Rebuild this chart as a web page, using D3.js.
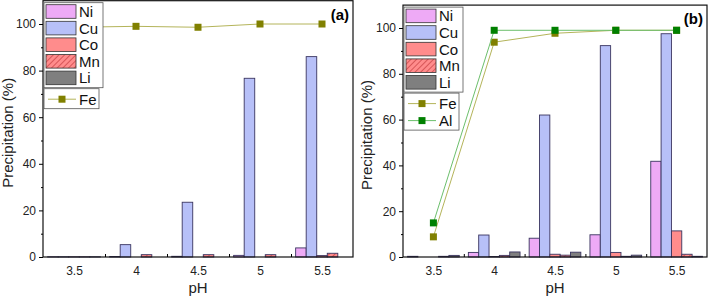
<!DOCTYPE html>
<html>
<head>
<meta charset="utf-8">
<script src="https://cdn.jsdelivr.net/npm/d3@7"></script>
<style>
  body { margin: 0; background: #fff; }
  svg { display: block; font-family: Arial, "Liberation Sans", sans-serif; }
</style>
</head>
<body>
<svg id="chart" width="709" height="296"></svg>
<script>
// категории pH и металлы
const phValues = [3.5, 4, 4.5, 5, 5.5];
const metals = ["Ni", "Cu", "Co", "Mn", "Li"];
const yTicks = [0, 20, 40, 60, 80, 100];

// панель (a): осаждение, %
const niA = [0.1, 0.2, 0.3, 0.7, 3.9];
const cuA = [0.1, 5.3, 23.5, 76.7, 86.0];
const coA = [0.1, 0.0, 0.0, 0.0, 0.6];
const mnA = [0.1, 1.0, 1.0, 1.0, 1.6];
const liA = [0.1, 0.0, 0.0, 0.0, 0.0];
const feA = [98.6, 99.0, 98.6, 100.0, 100.0];

// панель (b)
const niB = [0.3, 2.0, 8.2, 9.7, 41.8];
const cuB = [0.0, 9.6, 62.0, 92.3, 97.5];
const coB = [0.0, 0.2, 1.2, 2.0, 11.4];
const mnB = [0.3, 0.7, 0.8, 0.3, 1.2];
const liB = [0.7, 2.2, 2.1, 0.8, 0.3];
const feB = [8.8, 93.8, 97.7, 99.0, 99.0];
const alB = [14.9, 99.0, 99.0, 99.0, 99.0];

const fills = { Ni: "#eeaaf6", Cu: "#b7c0f8", Co: "#ff8c8c", Mn: "url(#hatchMn)", Li: "#7f7f7f" };
const lineSeries = {
  Fe: { marker: "#808000", line: "#b4b45a" },
  Al: { marker: "#008000", line: "#6cbf6c" }
};

const svg = d3.select("#chart");

// штриховка для Mn
const pat = svg.append("defs").append("pattern")
  .attr("id", "hatchMn")
  .attr("patternUnits", "userSpaceOnUse")
  .attr("width", 4).attr("height", 4)
  .attr("patternTransform", "rotate(45)");
pat.append("rect").attr("width", 4).attr("height", 4).attr("fill", "#ff8c8c");
pat.append("line").attr("x1", 0).attr("y1", 0).attr("x2", 0).attr("y2", 4)
  .attr("stroke", "#c0393b").attr("stroke-width", 1.3);

function drawPanel(cfg) {
  const g = svg.append("g");
  const x = d3.scaleLinear().domain([3.25, 5.75]).range([cfg.left, cfg.right]);
  const y = d3.scaleLinear().domain([0, 110]).range([cfg.bottom, cfg.bottom - (cfg.bottom - cfg.y100) * 1.1]);

  const barW = x(3.25 + 0.085) - x(3.25);
  const inner = d3.scaleBand().domain(metals).range([-2.5 * barW, 2.5 * barW]);

  // столбцы
  metals.forEach(m => {
    g.selectAll(null)
      .data(cfg.bars[m].map((v, i) => ({ ph: phValues[i], v })))
      .enter()
      .append("rect")
      .attr("x", d => x(d.ph) + inner(m))
      .attr("y", d => y(d.v))
      .attr("width", inner.bandwidth())
      .attr("height", d => y(0) - y(d.v))
      .attr("fill", fills[m])
      .attr("stroke", "#3a3560")
      .attr("stroke-width", 0.9);
  });

  // линии Fe / Al
  const line = d3.line().x(d => x(d.ph)).y(d => y(d.v));
  Object.keys(cfg.lines).forEach(k => {
    const pts = cfg.lines[k].map((v, i) => ({ ph: phValues[i], v }));
    g.append("path").datum(pts)
      .attr("fill", "none")
      .attr("stroke", lineSeries[k].line)
      .attr("stroke-width", 1)
      .attr("d", line);
    g.selectAll(null).data(pts).enter().append("rect")
      .attr("x", d => x(d.ph) - 3.5)
      .attr("y", d => y(d.v) - 3.5)
      .attr("width", 7).attr("height", 7)
      .attr("fill", lineSeries[k].marker);
  });

  // рамка
  g.append("rect")
    .attr("x", cfg.left).attr("y", y(110))
    .attr("width", cfg.right - cfg.left).attr("height", y(0) - y(110))
    .attr("fill", "none").attr("stroke", "#111").attr("stroke-width", 1.2);

  // ось Y
  const yAxis = g.append("g")
    .attr("transform", `translate(${cfg.left},0)`)
    .call(d3.axisLeft(y).tickValues(yTicks).tickSize(4).tickPadding(3));
  yAxis.select(".domain").remove();
  yAxis.selectAll("text").attr("font-size", 12).attr("fill", "#222")
    .attr("font-family", "Arial, 'Liberation Sans', sans-serif");
  g.append("g")
    .attr("transform", `translate(${cfg.left},0)`)
    .call(d3.axisLeft(y).tickValues([10, 30, 50, 70, 90]).tickSize(2).tickFormat(""))
    .select(".domain").remove();

  // ось X
  const xAxis = g.append("g")
    .attr("transform", `translate(0,${cfg.bottom})`)
    .call(d3.axisBottom(x).tickValues(phValues).tickSize(0).tickPadding(9).tickFormat(d3.format("")));
  xAxis.select(".domain").remove();
  xAxis.selectAll("text").attr("font-size", 12).attr("fill", "#222")
    .attr("font-family", "Arial, 'Liberation Sans', sans-serif");
  g.append("g")
    .attr("transform", `translate(0,${cfg.bottom})`)
    .call(d3.axisTop(x).tickValues([3.75, 4.25, 4.75, 5.25]).tickSize(3).tickFormat(""))
    .select(".domain").remove();

  // подписи осей
  g.append("text")
    .attr("x", (cfg.left + cfg.right) / 2).attr("y", 293)
    .attr("text-anchor", "middle").attr("font-size", 15).attr("fill", "#222")
    .text("pH");
  g.append("text")
    .attr("transform", `translate(${cfg.labelX},${(y(0) + y(110)) / 2 + 4}) rotate(-90)`)
    .attr("text-anchor", "middle").attr("font-size", 15).attr("fill", "#222")
    .text("Precipitation (%)");

  g.append("text")
    .attr("x", cfg.right - 4).attr("y", y(110) + 19)
    .attr("text-anchor", "end").attr("font-size", 15).attr("font-weight", "bold")
    .text(cfg.title);

  // легенда: столбцы
  const lx = cfg.left + 1, ly = y(110) + 2, lw = 59, step = 16.6;
  g.append("rect").attr("x", lx).attr("y", ly).attr("width", lw).attr("height", step * 5 + 2)
    .attr("fill", "#fff").attr("stroke", "#555").attr("stroke-width", 0.8);
  metals.forEach((m, i) => {
    g.append("rect")
      .attr("x", lx + 2).attr("y", ly + 2 + i * step)
      .attr("width", 30).attr("height", step - 3)
      .attr("fill", fills[m]).attr("stroke", "#333").attr("stroke-width", 0.8);
    g.append("text")
      .attr("x", lx + 35).attr("y", ly + 2 + i * step + step / 2 + 4)
      .attr("font-size", 15).attr("fill", "#111").text(m);
  });

  // легенда: линии
  const keys = Object.keys(cfg.lines);
  const ly2 = ly + step * 5 + 3, step2 = 17;
  g.append("rect").attr("x", lx).attr("y", ly2).attr("width", lw - 4).attr("height", keys.length * step2 + 3)
    .attr("fill", "#fff").attr("stroke", "#555").attr("stroke-width", 0.8);
  keys.forEach((k, i) => {
    const cy = ly2 + 2 + i * step2 + step2 / 2;
    g.append("line").attr("x1", lx + 4).attr("x2", lx + 32).attr("y1", cy).attr("y2", cy)
      .attr("stroke", lineSeries[k].line).attr("stroke-width", 1);
    g.append("rect").attr("x", lx + 14.5).attr("y", cy - 3.5).attr("width", 7).attr("height", 7)
      .attr("fill", lineSeries[k].marker);
    g.append("text").attr("x", lx + 35).attr("y", cy + 5.5)
      .attr("font-size", 15).attr("fill", "#111").text(k);
  });
}

drawPanel({
  left: 43, right: 353, bottom: 257, y100: 24, labelX: 13, title: "(a)",
  bars: { Ni: niA, Cu: cuA, Co: coA, Mn: mnA, Li: liA },
  lines: { Fe: feA }
});

drawPanel({
  left: 403, right: 707, bottom: 257, y100: 28, labelX: 372, title: "(b)",
  bars: { Ni: niB, Cu: cuB, Co: coB, Mn: mnB, Li: liB },
  lines: { Fe: feB, Al: alB }
});
</script>
</body>
</html>
